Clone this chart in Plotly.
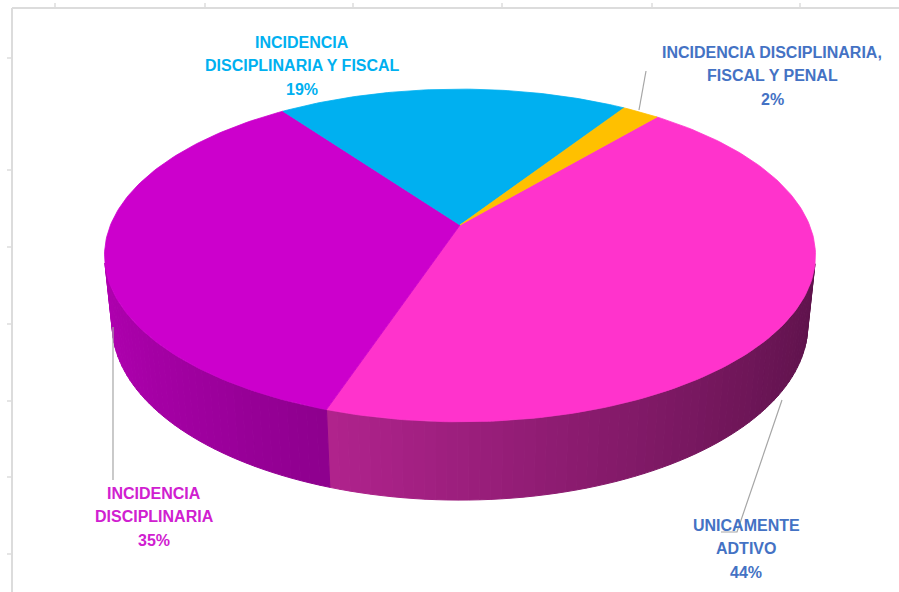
import numpy as np
import plotly.graph_objects as go

# ---------------- data ----------------
categories = ["UNICAMENTE ADTIVO",
              "INCIDENCIA DISCIPLINARIA",
              "INCIDENCIA DISCIPLINARIA Y FISCAL",
              "INCIDENCIA DISCIPLINARIA, FISCAL Y PENAL"]
values = [44, 35, 19, 2]
label_lines = [["UNICAMENTE", "ADTIVO"],
               ["INCIDENCIA", "DISCIPLINARIA"],
               ["INCIDENCIA", "DISCIPLINARIA Y FISCAL"],
               ["INCIDENCIA DISCIPLINARIA,", "FISCAL Y PENAL"]]

# ---------------- style ----------------
top_colors = ["#FF33CC", "#CC00CC", "#00B0F0", "#FFC000"]
text_colors = ["#4472C4", "#D020D0", "#00B0F0", "#4472C4"]
label_centers = [(746, 525), (154, 493), (302, 42), (772, 52)]   # first-line centre (px)
LINE_GAP = 23.5
leaders = [[(782, 400), (737, 532), (721, 532)],
           [(113, 327), (113, 480)],
           None,
           [(639, 110), (646, 71)]]

W, H = 899, 592
CX, CY = 460.0, 225.0          # projected pie centre
F, DIST = 1695.0, 4.85         # focal length / camera distance (radius = 1)
SIN_E, COS_E = 0.46, 0.888     # camera elevation
THICK = 0.225                  # pie thickness (radius units)
START = 50.0                   # start angle (deg, math convention), slices run clockwise


def project(a_deg, y):
    a = np.radians(a_deg)
    X, Z = np.cos(a), np.sin(a)
    depth = DIST + Z * COS_E - y * SIN_E
    sx = CX + F * X / depth
    sy = CY - F * (y * COS_E + Z * SIN_E) / depth
    return sx, sy


def shade(hexcol, k):
    h = hexcol.lstrip("#")
    r, g, b = (int(h[i:i + 2], 16) for i in (0, 2, 4))
    return "rgb(%d,%d,%d)" % (r * k, g * k, b * k)


total = float(sum(values))
bounds = [START]
for v in values:
    bounds.append(bounds[-1] - 360.0 * v / total)

fig = go.Figure()

# side walls (front, visible part only)
vis_lim = -1.0 / (DIST * COS_E)
for i in range(len(values)):
    a0, a1 = bounds[i], bounds[i + 1]
    n = max(2, int(abs(a0 - a1) / 1.5))
    steps = np.linspace(a0, a1, n + 1)
    for j in range(n):
        s0, s1 = steps[j], steps[j + 1]
        mid = np.radians((s0 + s1) / 2)
        if np.sin(mid) >= vis_lim:
            continue
        k = 0.615 - 0.25 * np.cos(mid)
        col = shade(top_colors[i], k)
        x0t, y0t = project(s0, 0.0)
        x1t, y1t = project(s1, 0.0)
        x1b, y1b = project(s1, -THICK)
        x0b, y0b = project(s0, -THICK)
        fig.add_trace(go.Scatter(x=[x0t, x1t, x1b, x0b, x0t], y=[y0t, y1t, y1b, y0b, y0t],
                                 mode="lines", fill="toself", fillcolor=col,
                                 line=dict(color=col, width=1), hoverinfo="skip"))

# top faces
for i in range(len(values)):
    a0, a1 = bounds[i], bounds[i + 1]
    arc = np.linspace(a0, a1, max(8, int(abs(a0 - a1))))
    xs, ys = project(arc, 0.0)
    px = np.concatenate([[CX], xs, [CX]])
    py = np.concatenate([[CY], ys, [CY]])
    fig.add_trace(go.Scatter(x=px, y=py, mode="lines", fill="toself",
                             fillcolor=top_colors[i],
                             line=dict(color=top_colors[i], width=0.8),
                             hoverinfo="skip"))

# leader lines
for pts in leaders:
    if pts is None:
        continue
    fig.add_trace(go.Scatter(x=[p[0] for p in pts], y=[p[1] for p in pts], mode="lines",
                             line=dict(color="#A6A6A6", width=1.2), hoverinfo="skip"))

# labels
for i in range(len(values)):
    pct = "%d%%" % round(100 * values[i] / total)
    lines = label_lines[i] + [pct]
    cx, cy = label_centers[i]
    for j, t in enumerate(lines):
        fig.add_annotation(x=cx, y=cy + j * LINE_GAP, text="<b>%s</b>" % t, showarrow=False,
                           xanchor="center", yanchor="middle",
                           font=dict(family="Liberation Sans, Arial", size=16,
                                     color=text_colors[i]))

# sheet frame decorations
frame_col = "#DCDCDC"
shapes = [dict(type="line", x0=12, x1=W, y0=8, y1=8, line=dict(color=frame_col, width=2)),
          dict(type="line", x0=12, x1=12, y0=8, y1=H, line=dict(color=frame_col, width=2))]
for tx in [55, 205, 353, 502, 652, 800]:
    shapes.append(dict(type="line", x0=tx, x1=tx, y0=3, y1=8, line=dict(color=frame_col, width=1.5)))
for ty in [58, 170, 247, 324, 401, 477, 554]:
    shapes.append(dict(type="line", x0=7, x1=12, y0=ty, y1=ty, line=dict(color=frame_col, width=1.5)))
for s in shapes:
    s.update(xref="x", yref="y", layer="below")

fig.update_layout(width=W, height=H, margin=dict(l=0, r=0, t=0, b=0),
                  paper_bgcolor="white", plot_bgcolor="white", showlegend=False,
                  shapes=shapes,
                  xaxis=dict(range=[0, W], visible=False, fixedrange=True),
                  yaxis=dict(range=[H, 0], visible=False, fixedrange=True))

fig.write_html("out.html")
